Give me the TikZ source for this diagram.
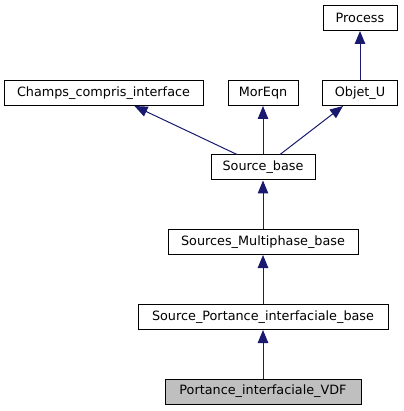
\documentclass[tikz,border=0pt]{standalone}
\usepackage{fontspec}
\setmainfont{DejaVu Sans}
\usetikzlibrary{arrows.meta,calc}
\definecolor{edgecol}{HTML}{191970}
\definecolor{boxgray}{HTML}{BFBFBF}
\tikzset{
  cls/.style={draw=black, line width=1pt, fill=white, minimum height=25pt, inner sep=0pt, font=\fontsize{12.8}{14}\selectfont},
  cur/.style={cls, fill=boxgray},
  inh/.style={draw=edgecol, line width=1pt, -{Triangle[length=13pt,width=10.5pt]}}
}
\begin{document}
\begin{tikzpicture}[x=1pt,y=-1pt]
\useasboundingbox (0,0) rectangle (403,411);
\node[cls, minimum width=74pt] (process) at (360,18) {Process};
\node[cls, minimum width=199pt] (champs) at (103.5,93) {Champs\_compris\_interface};
\node[cls, minimum width=70pt] (moreqn) at (263,93) {MorEqn};
\node[cls, minimum width=75pt] (objetu) at (360,93) {Objet\_U};
\node[cls, minimum width=104pt] (sb) at (263,167.5) {Source\_base};
\node[cls, minimum width=190pt] (smb) at (263,242) {Sources\_Multiphase\_base};
\node[cls, minimum width=250pt] (spib) at (263,317) {Source\_Portance\_interfaciale\_base};
\node[cur, minimum width=196pt] (vdf) at (263,391.5) {Portance\_interfaciale\_VDF};
\draw[inh] (objetu) -- (process);
\draw[inh] ($(sb.north)+(-26,0)$) -- ($(champs.south)+(31,0)$);
\draw[inh] (sb) -- (moreqn);
\draw[inh] ($(sb.north)+(17,0)$) -- ($(objetu.south)+(-17,0)$);
\draw[inh] (smb) -- (sb);
\draw[inh] (spib) -- (smb);
\draw[inh] (vdf) -- (spib);
\end{tikzpicture}
\end{document}
